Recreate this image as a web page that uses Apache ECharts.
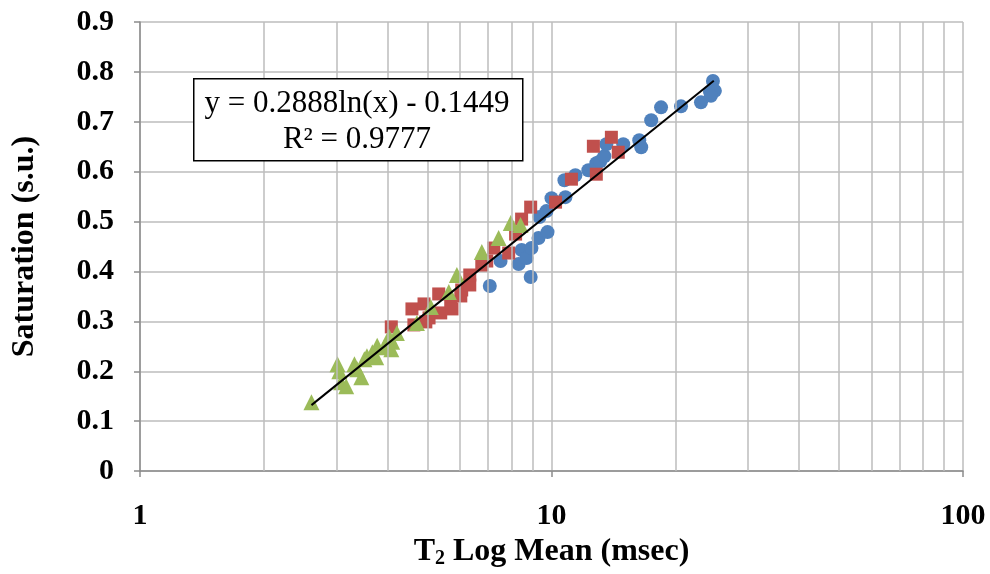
<!DOCTYPE html>
<html><head><meta charset="utf-8">
<script src="https://cdn.jsdelivr.net/npm/echarts@6/dist/echarts.min.js"></script>
<style>html,body{margin:0;padding:0;background:#fff}#c{width:990px;height:574px}</style>
</head><body><div id="c"></div>
<script>
// Blue circles
const blueX=[7.08,7.52,8.32,8.46,8.70,8.90,8.94,9.30,9.78,9.35,9.72,10.0,10.81,10.75,11.43,12.29,12.85,13.14,13.44,13.59,14.94,16.34,16.52,17.47,18.46,20.64,23.08,24.27,24.68,24.95,24.40];
const blueY=[0.371,0.421,0.415,0.443,0.427,0.389,0.447,0.467,0.479,0.509,0.521,0.547,0.549,0.583,0.593,0.603,0.617,0.621,0.631,0.655,0.655,0.663,0.649,0.703,0.729,0.731,0.739,0.760,0.782,0.762,0.752];
// Red squares
const redX=[4.08,4.58,4.63,4.90,4.95,5.04,5.32,5.38,5.69,5.73,6.02,6.05,6.33,6.33,6.77,6.96,7.24,7.87,8.18,8.46,8.90,10.23,11.18,12.85,12.64,13.98,14.53];
const redY=[0.289,0.325,0.293,0.335,0.299,0.307,0.355,0.317,0.339,0.325,0.351,0.363,0.373,0.393,0.413,0.421,0.447,0.437,0.475,0.505,0.529,0.539,0.585,0.595,0.651,0.669,0.639];
// Green triangles
const greenX=[2.61,3.02,3.05,3.08,3.17,3.32,3.37,3.45,3.51,3.56,3.67,3.75,3.77,3.92,4.08,4.10,4.03,4.21,4.71,5.09,5.63,5.89,6.77,7.44,7.96,8.41];
const greenY=[0.138,0.214,0.200,0.178,0.170,0.214,0.204,0.188,0.224,0.230,0.238,0.228,0.251,0.248,0.244,0.259,0.269,0.277,0.297,0.329,0.359,0.393,0.439,0.467,0.497,0.493];
// Trendline (as displayed: y = 0.2888ln(x) - 0.1449)
const trendA=0.2888, trendB=-0.1449;
const trendX=[2.61,24.8];
// Axis ticks
const yTicks=[0,0.1,0.2,0.3,0.4,0.5,0.6,0.7,0.8,0.9];
const xMinorGrid=[2,3,4,5,6,7,8,9,20,30,40,50,60,70,80,90];

const zip=(a,b)=>a.map((v,i)=>[v,b[i]]);
const FONT='Liberation Serif';
const GRID='#bcbcbc', AXIS='#8c8c8c';
const chart=echarts.init(document.getElementById('c'),null,{renderer:'canvas'});
chart.setOption({
  animation:false,
  backgroundColor:'#fff',
  grid:{left:140,right:27,top:22,bottom:102,containLabel:false},
  xAxis:{type:'log',logBase:10,min:1,max:100,
    name:'{a|T}{s|2}{a| Log Mean (msec)}',nameLocation:'middle',nameGap:60,
    nameTextStyle:{rich:{a:{fontFamily:FONT,fontWeight:'bold',fontSize:32,color:'#000'},
      s:{fontFamily:FONT,fontWeight:'bold',fontSize:20,color:'#000',padding:[14,0,0,0]}}},
    axisLine:{show:true,onZero:false,lineStyle:{color:AXIS,width:1.5}},
    axisTick:{show:true,length:6,lineStyle:{color:AXIS,width:1.5}},
    axisLabel:{fontFamily:FONT,fontWeight:'bold',fontSize:30,color:'#000',margin:30},
    splitLine:{show:true,lineStyle:{color:GRID,width:1.5}},
    minorTick:{show:false},minorSplitLine:{show:false}},
  yAxis:{type:'value',min:0,max:0.9,interval:0.1,
    name:'Saturation (s.u.)',nameLocation:'middle',nameGap:99,nameRotate:90,
    nameTextStyle:{fontFamily:FONT,fontWeight:'bold',fontSize:32,color:'#000'},
    axisLine:{show:true,lineStyle:{color:AXIS,width:1.5}},
    axisTick:{show:true,length:6,lineStyle:{color:AXIS,width:1.5}},
    axisLabel:{fontFamily:FONT,fontWeight:'bold',fontSize:30,color:'#000',margin:26,
      formatter:v=>{const r=Math.round(v*10)/10;return yTicks.includes(r)?String(r):'';}},
    splitLine:{show:true,lineStyle:{color:GRID,width:1.5}}},
  series:[
    {type:'line',data:[],z:1,silent:true,
      markLine:{silent:true,symbol:'none',label:{show:false},animation:false,
        lineStyle:{color:GRID,width:1.5,type:'solid'},
        data:xMinorGrid.map(v=>({xAxis:v}))}},
    {name:'blue',type:'scatter',symbol:'circle',symbolSize:14,z:2,
      itemStyle:{color:'#4F81BD',opacity:1},data:zip(blueX,blueY)},
    {name:'red',type:'scatter',symbol:'rect',symbolSize:13,z:3,
      itemStyle:{color:'#C0504D',opacity:1},data:zip(redX,redY)},
    {name:'green',type:'scatter',symbol:'triangle',symbolSize:16,z:4,
      itemStyle:{color:'#9BBB59',opacity:1},data:zip(greenX,greenY)},
    {name:'trend',type:'line',z:5,symbol:'none',silent:true,
      lineStyle:{color:'#000',width:2},
      data:trendX.map(x=>[x,trendA*Math.log(x)+trendB])}
  ],
  graphic:[
    {type:'rect',left:193,top:78,z:100,shape:{width:329,height:82},
      style:{fill:'#fff',stroke:'#000',lineWidth:1.5}},
    {type:'text',z:101,x:357,y:104,style:{text:'y = 0.2888ln(x) - 0.1449',fontFamily:FONT,fontSize:31,fill:'#000',textAlign:'center',textVerticalAlign:'middle'}},
    {type:'text',z:101,x:357,y:140,style:{text:'R² = 0.9777',fontFamily:FONT,fontSize:31,fill:'#000',textAlign:'center',textVerticalAlign:'middle'}}
  ]
});
</script></body></html>
